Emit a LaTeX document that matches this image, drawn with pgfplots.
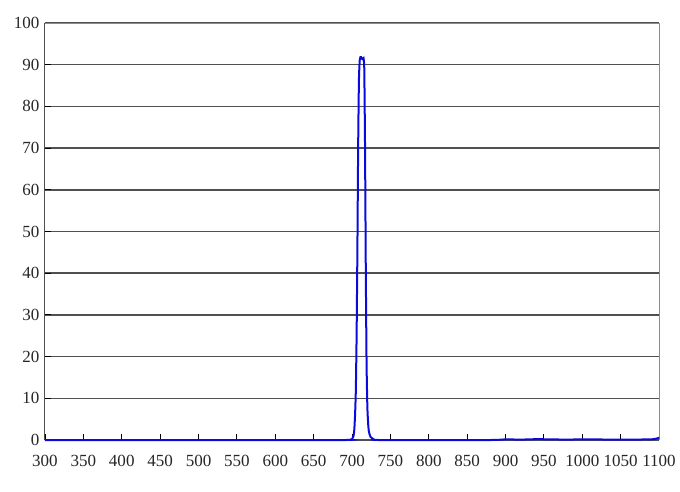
\documentclass[border=0pt]{standalone}
\usepackage{pgfplots}
\pgfplotsset{compat=1.18}
\usepackage{fontspec}
\setmainfont{Liberation Serif}
\definecolor{gridgray}{RGB}{80,80,80}
\definecolor{framegray}{RGB}{140,140,140}
\definecolor{curveblue}{RGB}{10,10,220}
\begin{document}
\begin{tikzpicture}
\begin{axis}[
scale only axis,
width=614pt,
height=417pt,
xmin=300, xmax=1100,
ymin=0, ymax=100,
xtick={300,350,...,1100},
ytick={0,10,...,100},
axis lines*=left,
axis line style={-, draw=gridgray, line width=1pt},
tick align=inside,
major tick length=6pt,
tick style={black, line width=0.9pt},
ymajorgrids,
major grid style={gridgray, line width=1.5pt},
font=\fontsize{17}{19}\selectfont,
/pgf/number format/assume math mode=true,
/pgf/number format/1000 sep={},
tick label style={text=black!85},
xticklabel style={yshift=-12pt},
yticklabel style={xshift=-2pt},
clip=false,
]
\draw[framegray, line width=1pt] (rel axis cs:0,1) -- (rel axis cs:1,1) -- (rel axis cs:1,0);
\addplot[curveblue, line width=2pt, smooth, tension=0.3] coordinates {
(300,0) (500,0) (690,0) (698,0.1) (700,0.2) (702,1) (703,2.5) (704,6)
(705,12) (706,25) (707,45) (708,70) (709,86) (710,91) (711,91.8)
(712,91.8) (713,91.4) (714,91.3) (715,91.6) (716,89) (717,70)
(718,40) (719,18) (720,8) (721,4) (722,2) (724,0.8) (728,0.2)
(735,0) (880,0) (900,0.15) (920,0.1) (940,0.2) (960,0.15) (980,0.1)
(1000,0.15) (1050,0.1) (1090,0.15) (1098,0.4) (1100,0.6)
};
\end{axis}
\path ([shift={(-45pt,-51pt)}]current axis.south west) rectangle ([shift={(21pt,23pt)}]current axis.north east);
\end{tikzpicture}
\end{document}
